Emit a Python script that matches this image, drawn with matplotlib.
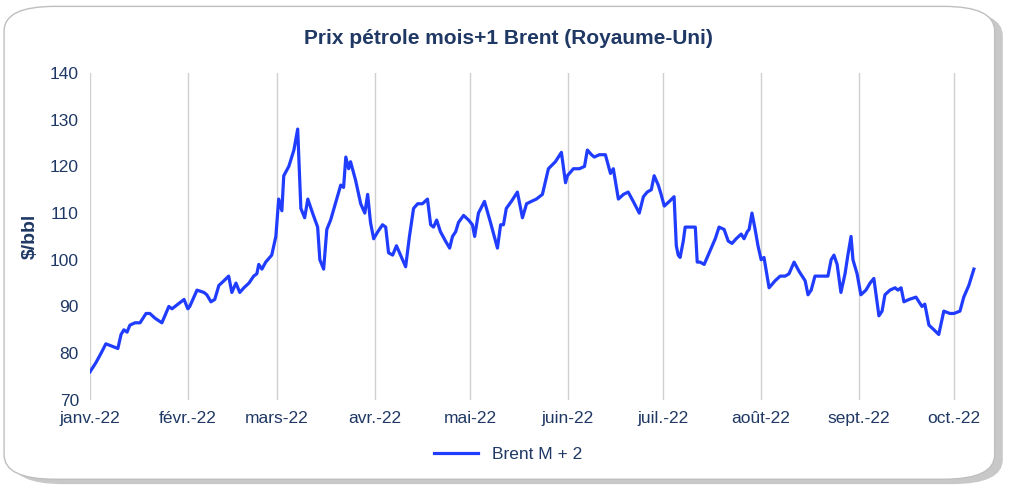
import matplotlib
matplotlib.use("Agg")
import matplotlib.pyplot as plt
from matplotlib.patches import FancyBboxPatch

plt.rcParams['font.family'] = ['Liberation Sans', 'DejaVu Sans']

days = [0,1.9,3.5,5.0,6.9,8.8,9.8,10.7,11.7,12.6,14.2,15.8,17.7,18.9,20.5,22.7,24.9,25.9,27.8,29.7,
        30.9,31.5,33.8,36.0,36.9,38.2,39.4,40.7,42.3,43.8,44.8,46.1,47.3,48.6,50.2,51.7,52.7,53.3,54.3,55.5,
        57.4,58.7,59.6,60.6,61.2,62.8,64.4,65.6,66.6,67.8,68.8,70.3,71.9,72.6,73.2,73.8,74.8,76.0,77.9,79.2,
        80.1,80.8,81.7,82.3,83.9,85.5,86.8,87.7,88.6,89.6,90.9,92.4,93.4,94.3,95.6,96.8,98.1,99.7,
        100.9,102.2,103.5,105.0,106.6,107.6,108.5,109.5,110.7,112.3,113.6,114.5,115.5,116.4,
        118.0,119.6,120.8,121.5,122.7,124.6,126.5,128.7,129.7,130.6,131.5,133.1,135.0,136.6,137.9,139.4,
        141.0,142.9,144.8,147.0,148.9,150.2,150.8,152.7,154.6,156.2,157.1,158.4,159.3,160.9,162.8,164.4,
        165.3,166.9,168.5,170.0,171.6,173.5,174.8,176.0,177.3,178.2,179.5,180.4,181.4,183.0,184.5,185.2,
        185.8,186.4,187.4,188.0,189.3,191.2,191.8,192.7,194.0,195.6,197.5,198.7,200.3,201.6,202.8,204.1,
        205.7,206.6,207.6,208.2,209.1,210.1,211.0,212.0,212.9,214.5,216.4,218.0,219.6,220.8,222.4,224.0,
        225.9,226.8,227.8,229.0,230.9,233.1,234.1,235.0,236.0,237.2,238.5,239.4,240.4,241.0,242.3,243.5,
        245.1,246.4,247.6,249.2,250.2,251.1,252.7,254.3,255.2,256.2,257.1,258.7,260.9,262.8,263.7,265.0,
        266.6,268.1,269.7,271.6,272.9,274.8,276.0,277.6,279.2]
brent = [76,78,80,82,81.5,81,84,85,84.5,86,86.5,86.5,88.5,88.5,87.5,86.5,90,89.5,90.5,91.5,
         89.5,90,93.5,93,92.5,91,91.5,94.5,95.5,96.5,93,95,93,94,95,96.5,97,99,98,99.5,
         101,105,113,110.5,118,120,123.5,128,111,109,113,110,107,100,99,98,106.5,108.5,113,116,
         115.5,122,119.5,121,117,112,110,114,108,104.5,106,107.5,107,101.5,101,103,101,98.5,
         105,111,112,112,113,107.5,107,108.5,106,104,102.5,105,106,108,
         109.5,108.5,107.5,105,110,112.5,108,102.5,107.5,107.5,111,112.5,114.5,109,112,112.5,
         113,114,119.5,121,123,116.5,118,119.5,119.5,120,123.5,122.5,122,122.5,122.5,118.5,
         119.5,113,114,114.5,112.5,110,113.5,114.5,115,118,116,114,111.5,112.5,113.5,103,
         101,100.5,104,107,107,107,99.5,99.5,99,101.5,104.5,107,106.5,104,103.5,104.5,
         105.5,104.5,106,106.5,110,106.5,103,100,100.5,94,95.5,96.5,96.5,97,99.5,97.5,
         95.5,92.5,93.5,96.5,96.5,96.5,100,101,99,93,97,101,105,100,97,92.5,
         93.5,95,96,88,89,92.5,93.5,94,93.5,94,91,91.5,92,90,90.5,86,
         85,84,89,88.5,88.5,89,92,94.5,98]
month_days = [0,31,59,90,120,151,181,212,243,273]
month_labels = ["janv.-22","févr.-22","mars-22","avr.-22","mai-22","juin-22","juil.-22","août-22","sept.-22","oct.-22"]

navy = "#1f3864"
fig = plt.figure(figsize=(10.16,4.9), dpi=100)
fig.patches.append(FancyBboxPatch((0.012,0.012),0.975,0.965,boxstyle="round,pad=0,rounding_size=0.05",
    transform=fig.transFigure, facecolor="#c8c8c8", edgecolor="none", zorder=-2))
fig.patches.append(FancyBboxPatch((0.004,0.022),0.975,0.965,boxstyle="round,pad=0,rounding_size=0.05",
    transform=fig.transFigure, facecolor="white", edgecolor="#bfbfbf", lw=1, zorder=-1))
ax = fig.add_axes([0.0886,0.184,0.874,0.667])
ax.patch.set_alpha(0)
ax.plot(days, brent, color="#1f3cff", lw=2.3, label="Brent M + 2")
ax.set_xlim(0,280.5)
ax.set_ylim(70,140)
ax.set_xticks(month_days)
ax.set_xticklabels(month_labels)
ax.set_yticks(range(70,141,10))
ax.grid(axis="x", color="#d0d0d0", lw=1)
for s in ax.spines.values():
    s.set_visible(False)
ax.tick_params(length=0, labelsize=12.5, colors=navy, pad=8)
ax.set_ylabel("$/bbl", fontsize=14, fontweight="bold", color=navy, labelpad=8)
fig.text(0.5,0.91,"Prix pétrole mois+1 Brent (Royaume-Uni)", ha="center", fontsize=15, fontweight="bold", color=navy)
fig.legend(loc="lower center", bbox_to_anchor=(0.5,0.025), frameon=False, fontsize=12.5, labelcolor=navy,
           handlelength=2.5)
fig.savefig("out.png", dpi=100)
